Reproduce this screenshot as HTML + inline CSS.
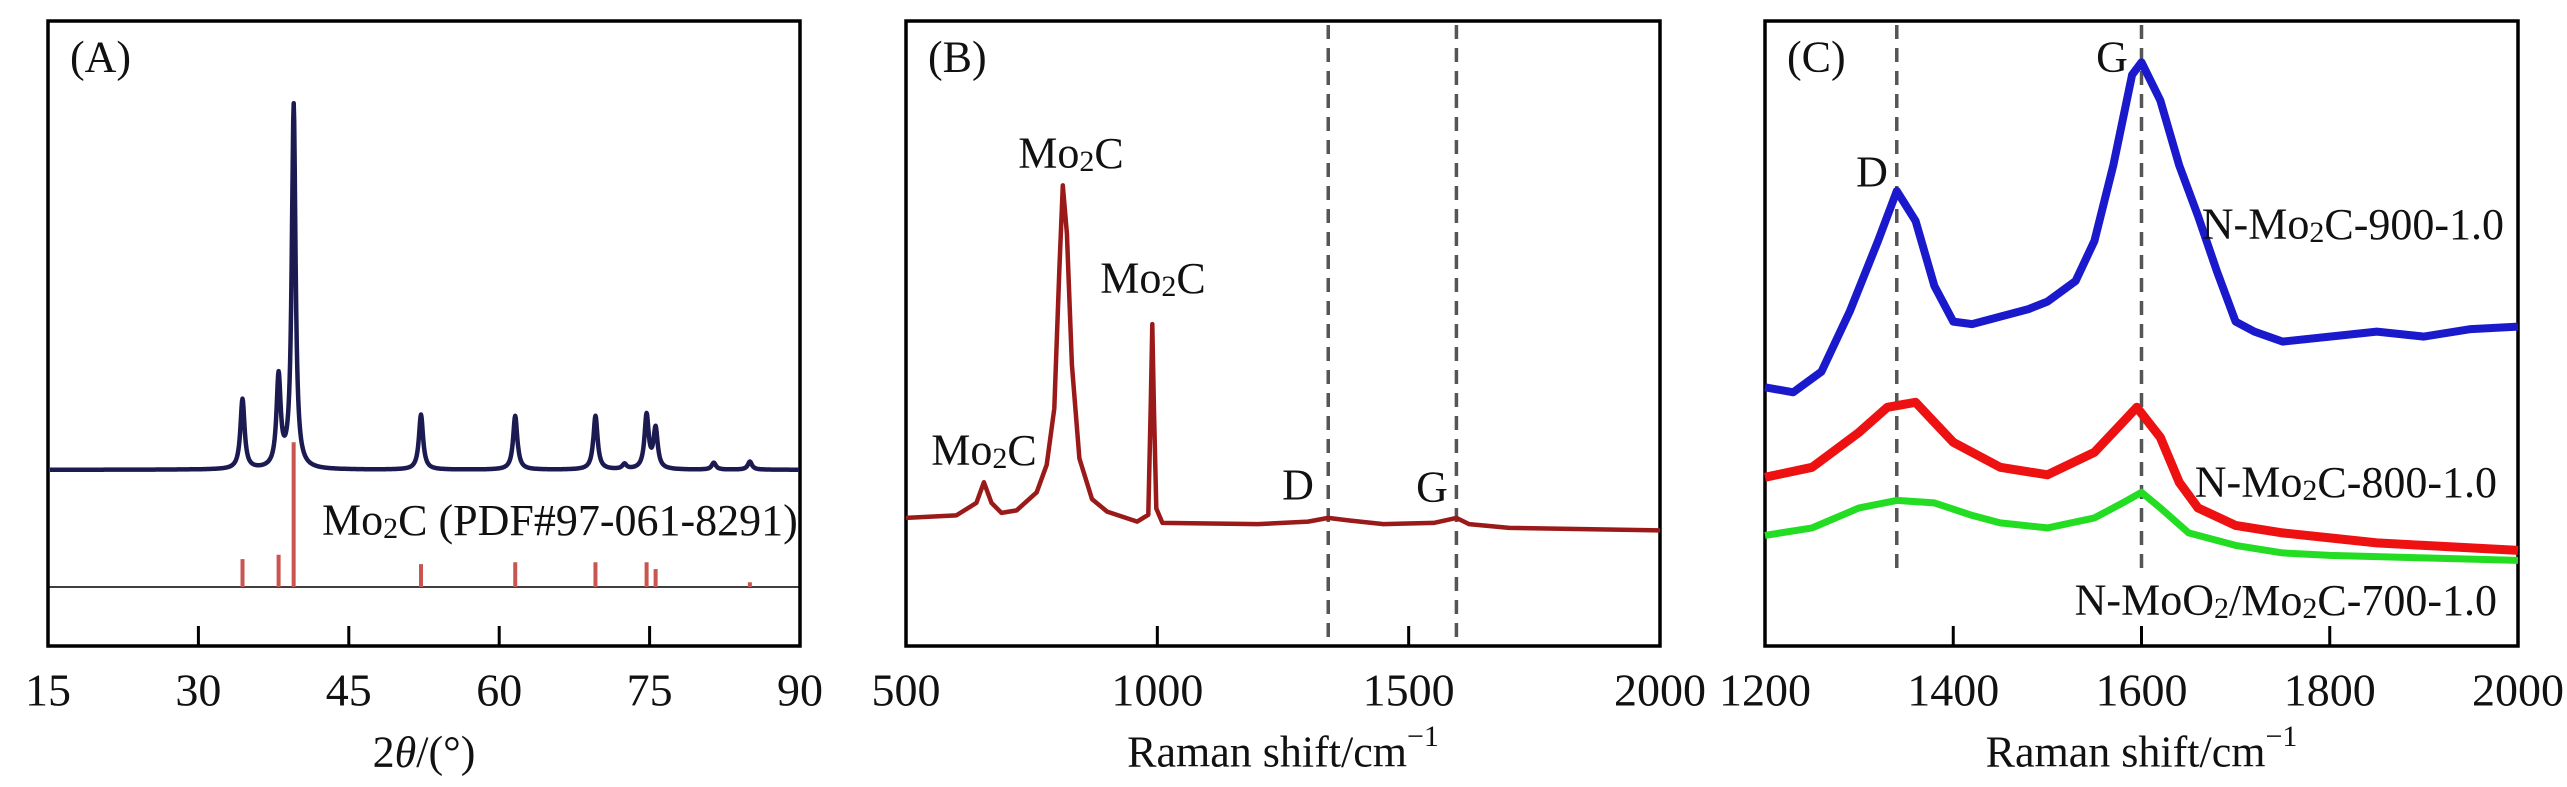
<!DOCTYPE html>
<html><head><meta charset="utf-8"><style>
html,body{margin:0;padding:0;background:#fff;}
svg{display:block;font-family:"Liberation Serif",serif;}
text{fill:#111;}
</style></head><body>
<svg id="fig" width="2567" height="787" viewBox="0 0 2567 787"></svg>
<script>
// ---------- Panel A data (XRD) ----------
const xrdPeakPos = [34.4, 38.0, 39.5, 52.2, 61.6, 69.6, 72.5, 74.7, 75.6, 81.4, 85.0];
const xrdPeakHeight = [11.2, 14.5, 58.2, 8.8, 8.6, 8.6, 0.8, 8.6, 6.4, 1.1, 1.3];
const xrdBaseline = 28.2;
const refStickPos = [34.4, 38.0, 39.5, 52.2, 61.6, 69.6, 74.7, 75.6, 85.0];
const refStickTop = [13.9, 14.6, 32.6, 13.1, 13.4, 13.4, 13.4, 12.3, 10.2];
const refBase = 9.44;
const ticksA = [15, 30, 45, 60, 75, 90];

// ---------- Panel B data (Raman, wide) ----------
const ramanBX = [500,600,640,655,670,690,720,760,780,795,805,812,820,830,845,870,900,960,982,987,990,993,998,1010,1200,1300,1340,1380,1450,1550,1595,1620,1700,2000];
const ramanBY = [20.5,20.9,22.9,26.2,22.9,21.3,21.7,24.6,29,38,60,73.7,66,45,30,23.5,21.5,19.9,21,39,51.5,39,22,19.7,19.5,19.9,20.5,20.1,19.5,19.7,20.5,19.5,18.9,18.5];
const ticksB = [500, 1000, 1500, 2000];

// ---------- Panel C data (Raman, D/G region) ----------
const cX900 = [1200,1230,1260,1290,1320,1340,1360,1380,1400,1420,1450,1480,1500,1530,1550,1570,1590,1600,1620,1640,1660,1680,1700,1720,1750,1800,1850,1900,1950,2000];
const cY900 = [41.4,40.6,43.9,53.5,64.8,72.8,68.0,57.6,51.9,51.5,52.7,53.9,55.1,58.4,64.8,76.9,91.4,93.4,87.3,76.9,68.8,60.0,51.9,50.3,48.7,49.5,50.3,49.5,50.7,51.1];
const cX800 = [1200,1250,1300,1330,1360,1380,1400,1450,1500,1550,1580,1595,1620,1640,1660,1700,1750,1800,1850,1900,1950,2000];
const cY800 = [27.0,28.6,34.2,38.2,39.0,35.8,32.6,28.6,27.4,31.0,35.8,38.2,33.4,26.2,22.1,19.3,18.1,17.3,16.5,16.1,15.7,15.3];
const cX700 = [1200,1250,1300,1340,1380,1420,1450,1500,1550,1580,1600,1620,1650,1700,1750,1800,1900,2000];
const cY700 = [17.7,18.9,22.1,23.3,22.9,20.9,19.7,18.9,20.5,22.9,24.6,22.1,18.1,16.1,14.9,14.5,14.1,13.7];
const ticksC = [1200, 1400, 1600, 1800, 2000];
const dashC = [1340, 1600];
const dashB = [1340, 1595];

const NS = "http://www.w3.org/2000/svg";
const svg = document.getElementById('fig');
const TOP = 21, BOT = 646;
function yS(v){ return BOT - v/100*(BOT-TOP); }
function mk(tag, attrs, parent){ const e=document.createElementNS(NS,tag); for(const k in attrs) e.setAttribute(k,attrs[k]); (parent||svg).appendChild(e); return e; }
function txt(x,y,s,anchor,parent,size){ const t=mk('text',{x:x,y:y,'text-anchor':anchor||'middle','font-size':size||44,'dominant-baseline':'central'},parent); t.innerHTML=s; return t; }

function panel(name,L,R,d0,d1,ticks,label,xtitle){
  const g = mk('g',{});
  
  
  const xs = v => L + (v-d0)/(d1-d0)*(R-L);
  const box = mk('rect',{x:L,y:TOP,width:R-L,height:BOT-TOP,fill:'none',stroke:'#000','stroke-width':3.5},g);
  
  
  ticks.forEach(t=>{
    if(t!==d0 && t!==d1){ const tk=mk('line',{x1:xs(t),x2:xs(t),y1:BOT,y2:BOT-20,stroke:'#000','stroke-width':3},g);
        }
    const tl = txt(xs(t),690,t,'middle',g,46);
    
    
  });
  const pl = txt(L+22,57,label,'start',g,44);
  
  
  const xt = txt((L+R)/2,752,xtitle,'middle',g,44);
  
  
  return {g,xs};
}
function linePath(xs,X,Y){ return X.map((x,i)=>(i?'L':'M')+xs(x).toFixed(1)+','+yS(Y[i]).toFixed(1)).join(' '); }

// Panel A
const A = panel('panel-a-xrd',48,800,15,90,ticksA,'(A)','2<tspan font-style="italic">θ</tspan>/(°)');
const refLine = mk('line',{x1:48,x2:800,y1:yS(refBase),y2:yS(refBase),stroke:'#000','stroke-width':1.5},A.g);
 
refStickPos.forEach((p,i)=>{
  const s = mk('line',{x1:A.xs(p),x2:A.xs(p),y1:yS(refBase),y2:yS(refStickTop[i]),stroke:'#c8554f','stroke-width':4},A.g);
   
});
let xrdPts=[];
for(let t=15.2;t<=89.9;t+=0.05){
  let v=xrdBaseline;
  xrdPeakPos.forEach((p,i)=>{ const w=(p===39.5)?0.22:0.25; v+=xrdPeakHeight[i]/(1+Math.pow((t-p)/w,2)); });
  xrdPts.push((xrdPts.length?'L':'M')+A.xs(t).toFixed(1)+','+yS(v).toFixed(1));
}
const xrd = mk('path',{d:xrdPts.join(' '),fill:'none',stroke:'#1b1b52','stroke-width':4.5,'stroke-linejoin':'round'},A.g);
 
const la = txt(322,520,'Mo<tspan font-size="30" dy="8">2</tspan><tspan dy="-8">C (PDF#97-061-8291)</tspan>','start',A.g,44);
 

// Panel B
const B = panel('panel-b-raman',906,1660,500,2000,ticksB,'(B)','Raman shift/cm<tspan font-size="30" dy="-16">−1</tspan>');
dashB.forEach(d=>{ const l=mk('line',{x1:B.xs(d),x2:B.xs(d),y1:TOP+4,y2:BOT-2,stroke:'#555','stroke-width':3.5,'stroke-dasharray':'14,9'},B.g);
    });
const bl = mk('path',{d:linePath(B.xs,ramanBX,ramanBY),fill:'none',stroke:'#9a1a1a','stroke-width':4.5,'stroke-linejoin':'round'},B.g);
 
[[1071,153],[1153,278],[984,450]].forEach(p=>{
  const t=txt(p[0],p[1],'Mo<tspan font-size="30" dy="8">2</tspan><tspan dy="-8">C</tspan>','middle',B.g,44);
   
});
const bd=txt(1298,485,'D','middle',B.g,44);  
const bg=txt(1432,487,'G','middle',B.g,44);  

// Panel C
const C = panel('panel-c-raman',1765,2518,1200,2000,ticksC,'(C)','Raman shift/cm<tspan font-size="30" dy="-16">−1</tspan>');
dashC.forEach(d=>{ const l=mk('line',{x1:C.xs(d),x2:C.xs(d),y1:TOP+4,y2:570,stroke:'#555','stroke-width':3.5,'stroke-dasharray':'14,9'},C.g);
    });
const c7=mk('path',{d:linePath(C.xs,cX700,cY700),fill:'none',stroke:'#22dd22','stroke-width':7,'stroke-linejoin':'round'},C.g);
 
const c8=mk('path',{d:linePath(C.xs,cX800,cY800),fill:'none',stroke:'#ee1111','stroke-width':9,'stroke-linejoin':'round'},C.g);
 
const c9=mk('path',{d:linePath(C.xs,cX900,cY900),fill:'none',stroke:'#1a1acc','stroke-width':8,'stroke-linejoin':'round'},C.g);
 
const cg=txt(2112,57,'G','middle',C.g,44);  
const cd=txt(1872,172,'D','middle',C.g,44);  
const l9=txt(2504,224,'N-Mo<tspan font-size="30" dy="8">2</tspan><tspan dy="-8">C-900-1.0</tspan>','end',C.g,44);
 
const l8=txt(2497,482,'N-Mo<tspan font-size="30" dy="8">2</tspan><tspan dy="-8">C-800-1.0</tspan>','end',C.g,44);
 
const l7=txt(2497,600,'N-MoO<tspan font-size="30" dy="8">2</tspan><tspan dy="-8">/Mo</tspan><tspan font-size="30" dy="8">2</tspan><tspan dy="-8">C-700-1.0</tspan>','end',C.g,44);
 
</script>
</body></html>
